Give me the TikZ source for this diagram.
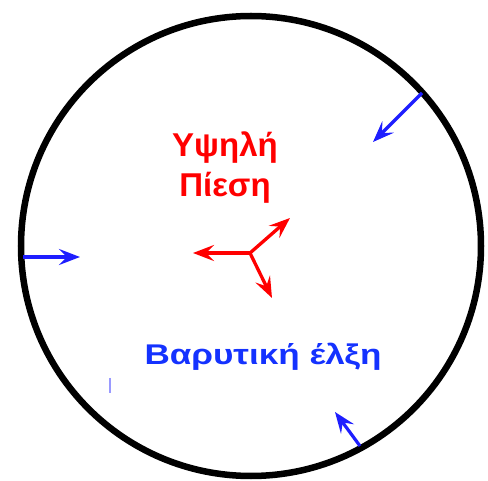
\documentclass[tikz,border=0pt]{standalone}
\usepackage{fontspec}
\setmainfont{Liberation Sans}
\usetikzlibrary{arrows.meta}
\definecolor{pred}{RGB}{255,0,0}
\definecolor{pblue}{RGB}{20,50,255}
\definecolor{ablue}{RGB}{30,30,255}
\begin{document}
\begin{tikzpicture}[x=1pt,y=-1pt,
  redarr/.style={draw=pred, line width=3.3pt, -{Stealth[length=21pt,width=16pt,inset=8pt]}},
  bluearr/.style={draw=ablue, line width=3.2pt, -{Stealth[length=21pt,width=16pt,inset=8pt]}},
  redlbl/.style={text=pred, font=\bfseries\fontsize{33}{40}\selectfont, inner sep=0pt, anchor=base},
  bluelbl/.style={text=pblue, font=\bfseries\fontsize{28.5}{34}\selectfont, inner sep=0pt, anchor=base, xscale=1.23}]
\useasboundingbox (0,0) rectangle (488,481);
\draw[line width=6.5pt] (251,246) circle[radius=230pt];
\fill[white] (418,412) rectangle (488,481);
\node[redlbl] (hp1) at (225,157) {Υψηλή};
\node[redlbl] (hp2) at (225,197) {Πίεση};
\node[bluelbl] (bx) at (263,365) {Βαρυτική έλξη};
\coordinate (c) at (250,253);
\coordinate (rl) at (193,253);
\coordinate (ru) at (290,218);
\coordinate (rd) at (272,298);
\draw[redarr] (c) -- (rl);
\draw[redarr] (c) -- (ru);
\draw[redarr] (c) -- (rd);
\coordinate (b1s) at (422,93);
\coordinate (b1e) at (373,142);
\coordinate (b2s) at (23,257);
\coordinate (b2e) at (80,257);
\coordinate (b3s) at (360,446);
\coordinate (b3e) at (335,412);
\draw[bluearr] (b1s) -- (b1e);
\draw[bluearr] (b2s) -- (b2e);
\draw[bluearr] (b3s) -- (b3e);
\coordinate (m1) at (110,378);
\coordinate (m2) at (110,393);
\draw[ablue!45, line width=1.5pt] (m1) -- (m2);
\end{tikzpicture}
\end{document}
